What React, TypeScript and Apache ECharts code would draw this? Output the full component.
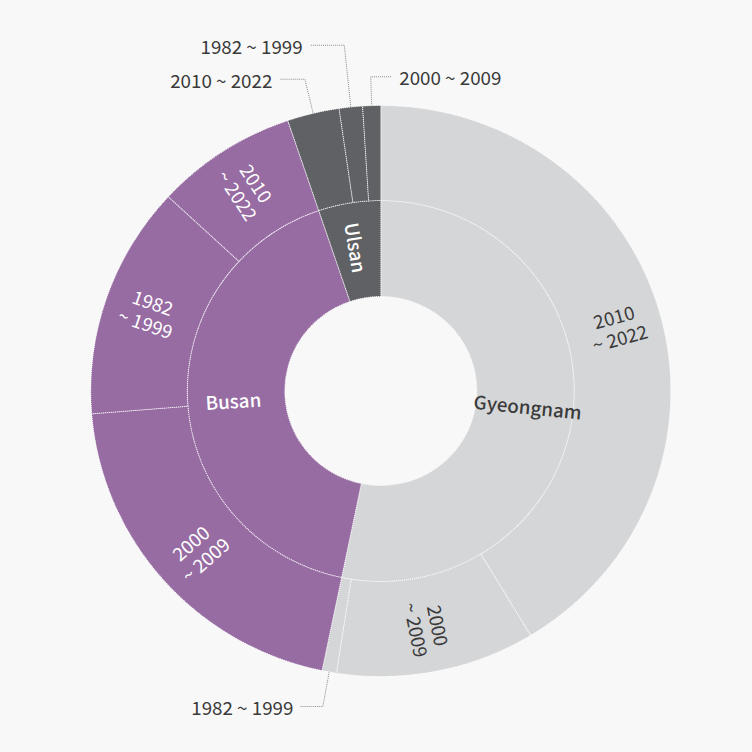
import React, { useEffect, useRef } from "react";
import * as echarts from "echarts";

const regions = ["Gyeongnam", "Busan", "Ulsan"];
const gyeongnamPeriods = ["2010 ~ 2022", "2000 ~ 2009", "1982 ~ 1999"];
const gyeongnamValues = [414, 111, 8];
const busanPeriods = ["2000 ~ 2009", "1982 ~ 1999", "2010 ~ 2022"];
const busanValues = [205, 132, 79];
const ulsanPeriods = ["2010 ~ 2022", "1982 ~ 1999", "2000 ~ 2009"];
const ulsanValues = [29, 13, 10];

const FONT = "'Noto Sans CJK KR', 'Noto Sans', sans-serif";
const regionColors: Record<string, string> = {
  Gyeongnam: "#d5d6d8",
  Busan: "#976ca3",
  Ulsan: "#5f6165",
};
const regionText: Record<string, string> = {
  Gyeongnam: "#3b3b3b",
  Busan: "#ffffff",
  Ulsan: "#ffffff",
};

// outside-label settings (style only): key = region|period
const outsideLabels: Record<string, { len: number; len2: number; flip?: boolean }> = {
  "Gyeongnam|1982 ~ 1999": { len: 35, len2: 22 },
  "Ulsan|2010 ~ 2022": { len: 35, len2: 25 },
  "Ulsan|1982 ~ 1999": { len: 62, len2: 34 },
  "Ulsan|2000 ~ 2009": { len: 29, len2: 21, flip: true },
};

export default function App() {
  const ref = useRef<HTMLDivElement>(null);
  useEffect(() => {
    if (!ref.current) return;
    const chart = echarts.init(ref.current, undefined, { renderer: "svg" });

    const groups: [string, string[], number[]][] = [
      ["Gyeongnam", gyeongnamPeriods, gyeongnamValues],
      ["Busan", busanPeriods, busanValues],
      ["Ulsan", ulsanPeriods, ulsanValues],
    ];

    const innerData = regions.map((r) => {
      const g = groups.find((x) => x[0] === r)!;
      const total = g[2].reduce((a, b) => a + b, 0);
      return {
        name: r,
        value: total,
        itemStyle: { color: regionColors[r] },
        label: { color: regionText[r] },
      };
    });

    const outerData: any[] = [];
    const flipIndex: Record<number, boolean> = {};
    groups.forEach(([r, periods, values]) => {
      periods.forEach((p, i) => {
        const key = r + "|" + p;
        const out = outsideLabels[key];
        const item: any = {
          name: p,
          value: values[i],
          itemStyle: { color: regionColors[r] },
          label: { color: regionText[r] },
        };
        if (out) {
          item.label = {
            position: "outside",
            rotate: 0,
            color: "#3a3a3a",
            formatter: "{b}",
          };
          item.labelLine = {
            show: true,
            length: out.len,
            length2: out.len2,
            lineStyle: { color: "#8c8c8c", width: 1, type: "dotted" },
          };
          if (out.flip) flipIndex[outerData.length] = true;
        }
        outerData.push(item);
      });
    });

    const border = {
      borderColor: "rgba(255,255,255,0.85)",
      borderWidth: 1,
      borderType: "dotted",
    };

    chart.setOption({
      animation: false,
      backgroundColor: "#f8f8f8",
      textStyle: { fontFamily: FONT },
      series: [
        {
          type: "pie",
          center: [380.8, 391],
          radius: [94.5, 190.5],
          startAngle: 90,
          clockwise: true,
          avoidLabelOverlap: false,
          silent: true,
          itemStyle: border,
          label: {
            position: "inside",
            rotate: "radial",
            fontFamily: FONT,
            fontSize: 18.5,
            fontWeight: 500,
          },
          labelLine: { show: false },
          data: innerData,
        },
        {
          type: "pie",
          center: [380.8, 391],
          radius: [190.5, 285.5],
          startAngle: 90,
          clockwise: true,
          avoidLabelOverlap: false,
          silent: true,
          itemStyle: border,
          label: {
            position: "inside",
            rotate: "radial",
            fontFamily: FONT,
            fontSize: 18.5,
            lineHeight: 22,
            distanceToLabelLine: 7,
            formatter: (p: any) => p.name.replace(" ~ ", "\n~ "),
          },
          labelLine: { show: false },
          labelLayout: (params: any) => {
            if (params.seriesIndex !== 1 || !flipIndex[params.dataIndex]) return {};
            const pts = params.labelLinePoints;
            if (!pts || pts.length < 3) return {};
            const len2 = Math.abs(pts[2][0] - pts[1][0]);
            const endX = pts[1][0] + len2;
            return {
              x: endX + 7,
              align: "left",
              labelLinePoints: [pts[0], pts[1], [endX, pts[2][1]]],
            };
          },
          data: outerData,
        },
      ],
    });
    return () => chart.dispose();
  }, []);
  return (
    <div
      ref={ref}
      style={{
        position: "fixed",
        left: 0,
        top: 0,
        width: 752,
        height: 752,
        transform: "scaleX(1.0158)",
        transformOrigin: "380.8px 391px",
        background: "#f8f8f8",
      }}
    />
  );
}
